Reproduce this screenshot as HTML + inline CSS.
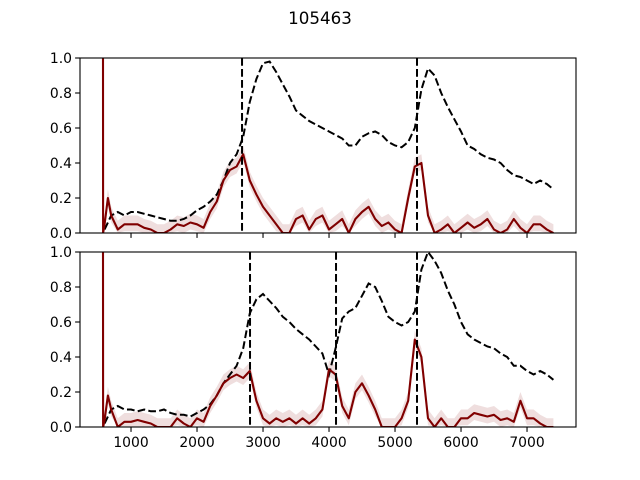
<!DOCTYPE html>
<html><head><meta charset="utf-8"><style>
body{margin:0;background:#fff;}
svg{display:block;font-family:"DejaVu Sans","Liberation Sans",sans-serif;}
</style></head><body>
<svg id="c" width="640" height="480">
<text x="320" y="24" text-anchor="middle" font-size="16.7">105463</text>
</svg>
<script>
const grid = [600,700,800,900,1000,1100,1200,1300,1400,1500,1600,1700,1800,1900,2000,2100,2200,2300,2400,2500,2600,2700,2800,2900,3000,3100,3200,3300,3400,3500,3600,3700,3800,3900,4000,4100,4200,4300,4400,4500,4600,4700,4800,4900,5000,5100,5200,5300,5400,5500,5600,5700,5800,5900,6000,6100,6200,6300,6400,6500,6600,6700,6800,6900,7000,7100,7200,7300,7400];
const topBlack = [0.02,0.1,0.12,0.1,0.12,0.12,0.11,0.1,0.09,0.08,0.07,0.07,0.08,0.1,0.13,0.15,0.18,0.22,0.3,0.4,0.45,0.55,0.75,0.88,0.97,0.98,0.92,0.85,0.78,0.7,0.67,0.64,0.62,0.6,0.58,0.56,0.54,0.5,0.5,0.55,0.57,0.58,0.56,0.52,0.5,0.49,0.52,0.6,0.82,0.94,0.9,0.8,0.72,0.65,0.58,0.5,0.48,0.45,0.43,0.42,0.4,0.36,0.33,0.32,0.3,0.28,0.3,0.28,0.25];
const redX = [576,577,600,650,700,800,900,1000,1100,1200,1300,1400,1500,1600,1700,1800,1900,2000,2100,2200,2300,2400,2500,2600,2700,2800,2900,3000,3100,3200,3300,3400,3500,3600,3700,3800,3900,4000,4100,4200,4300,4400,4500,4600,4700,4800,4900,5000,5100,5200,5300,5400,5500,5600,5700,5800,5900,6000,6100,6200,6300,6400,6500,6600,6700,6800,6900,7000,7100,7200,7300,7400];
const topRed = [1.0,0.0,0.05,0.2,0.1,0.02,0.05,0.05,0.05,0.03,0.02,0.0,0.0,0.02,0.05,0.04,0.06,0.05,0.03,0.12,0.18,0.3,0.36,0.38,0.45,0.3,0.22,0.15,0.1,0.05,0.0,0.0,0.08,0.1,0.02,0.08,0.1,0.02,0.05,0.08,0.0,0.08,0.12,0.15,0.08,0.04,0.06,0.02,0.0,0.2,0.38,0.4,0.1,0.0,0.02,0.05,0.0,0.03,0.06,0.03,0.05,0.08,0.02,0.0,0.02,0.08,0.03,0.0,0.05,0.05,0.02,0.0];
const botBlack = [0.02,0.1,0.12,0.1,0.1,0.09,0.1,0.09,0.09,0.1,0.08,0.07,0.07,0.06,0.08,0.1,0.13,0.18,0.25,0.3,0.35,0.45,0.65,0.73,0.76,0.72,0.68,0.63,0.6,0.56,0.53,0.5,0.46,0.42,0.3,0.45,0.62,0.66,0.68,0.75,0.82,0.8,0.72,0.63,0.6,0.58,0.6,0.66,0.9,1.0,0.95,0.88,0.78,0.7,0.6,0.53,0.5,0.48,0.46,0.45,0.42,0.4,0.35,0.35,0.32,0.3,0.32,0.3,0.27];
const botRed = [1.0,0.0,0.04,0.18,0.1,0.0,0.03,0.03,0.04,0.03,0.02,0.0,0.0,0.0,0.05,0.02,0.0,0.05,0.03,0.12,0.18,0.25,0.28,0.3,0.28,0.32,0.15,0.05,0.02,0.05,0.03,0.05,0.02,0.05,0.02,0.05,0.1,0.33,0.3,0.12,0.05,0.2,0.25,0.18,0.1,0.0,0.0,0.0,0.05,0.15,0.5,0.4,0.05,0.0,0.05,0.0,0.0,0.05,0.05,0.08,0.07,0.06,0.07,0.04,0.05,0.03,0.15,0.05,0.05,0.02,0.0,0.0];
const topVlines = [2682,5333];
const botVlines = [2803,4106,5333];
const xTicks = [1000,2000,3000,4000,5000,6000,7000];
const yTicks = [0,0.2,0.4,0.6,0.8,1.0];

const NS='http://www.w3.org/2000/svg';
const svg=document.getElementById('c');
const L=80,R=576,H=175;
const xs=v=>L+(v-227)*(R-L)/(7742-227);
function mk(tag,attrs,parent){const e=document.createElementNS(NS,tag);for(const k in attrs)e.setAttribute(k,attrs[k]);(parent||svg).appendChild(e);return e;}
function panel(top,black,red,vlines,name,showLabels){
  const g=mk('g',{});
  
  
  const ys=v=>top+H-v*H;
  const clip=mk('clipPath',{id:'cl'+name},g);
  mk('rect',{x:L,y:top,width:R-L,height:H},clip);
  const inner=mk('g',{'clip-path':'url(#cl'+name+')'},g);
  let up=redX.map((x,i)=>xs(x).toFixed(1)+','+ys(Math.min(1.05,red[i]+0.05)).toFixed(1));
  let dn=redX.map((x,i)=>xs(x).toFixed(1)+','+ys(Math.max(0,red[i]-0.04)).toFixed(1)).reverse();
  const band=mk('polygon',{points:up.concat(dn).join(' '),fill:'#800000','fill-opacity':'0.13',stroke:'none'},inner);
  
  
  const bl=mk('polyline',{points:grid.map((x,i)=>xs(x).toFixed(1)+','+ys(black[i]).toFixed(1)).join(' '),fill:'none',stroke:'#000','stroke-width':'2','stroke-dasharray':'7.7,3.3'},inner);
  
  
  const rl=mk('polyline',{points:redX.map((x,i)=>xs(x).toFixed(1)+','+ys(red[i]).toFixed(1)).join(' '),fill:'none',stroke:'#800000','stroke-width':'2.1','stroke-linejoin':'round'},inner);
  
  
  vlines.forEach(v=>{
    const l=mk('line',{x1:xs(v),x2:xs(v),y1:top,y2:top+H,stroke:'#000','stroke-width':'2','stroke-dasharray':'7.7,3.3'},inner);
    
    
  });
  const fr=mk('rect',{x:L,y:top,width:R-L,height:H,fill:'none',stroke:'#000','stroke-width':'1.1'},g);
  
  
  yTicks.forEach(t=>{
    mk('line',{x1:L-4.9,x2:L,y1:ys(t),y2:ys(t),stroke:'#000','stroke-width':'1.1'},g);
    const tx=mk('text',{x:L-8,y:ys(t)+5,'text-anchor':'end','font-size':'13.9'},g);
    tx.textContent=t.toFixed(1);
    
    
  });
  xTicks.forEach(t=>{
    mk('line',{x1:xs(t),x2:xs(t),y1:top+H,y2:top+H+4.9,stroke:'#000','stroke-width':'1.1'},g);
    if(showLabels){
      const tx=mk('text',{x:xs(t),y:top+H+20,'text-anchor':'middle','font-size':'13.9'},g);
      tx.textContent=t;
      
      
    }
  });
}
panel(58,topBlack,topRed,topVlines,'top-panel',false);
panel(252,botBlack,botRed,botVlines,'bottom-panel',true);
</script>
</body></html>
